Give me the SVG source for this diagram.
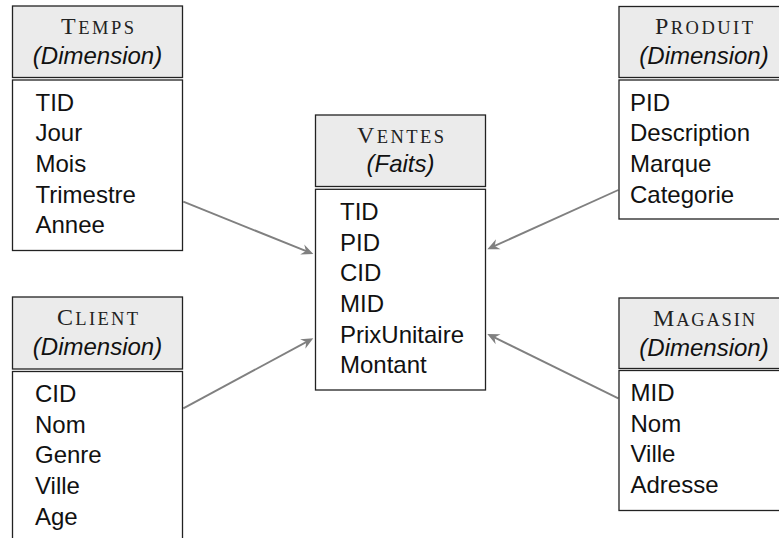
<svg xmlns="http://www.w3.org/2000/svg" width="779" height="538" viewBox="0 0 779 538">
  <style>
    .head { fill: #ebebeb; stroke: #222; stroke-width: 1.3; }
    .body { fill: #fff; stroke: #222; stroke-width: 1.3; }
    .title { font-family: "Liberation Serif", "Times New Roman", serif; fill: #222; text-anchor: middle; }
    .cap { font-size: 24px; }
    .sc { font-size: 18.5px; }
    .kind { font-family: "Liberation Sans", Arial, sans-serif; font-style: italic; font-size: 24px; fill: #111; text-anchor: middle; }
    .attr { font-family: "Liberation Sans", Arial, sans-serif; font-size: 24px; fill: #111; }
    .link { stroke: #808080; stroke-width: 1.9; fill: none; marker-end: url(#tip); }
  </style>
  <defs>
    <marker id="tip" markerUnits="userSpaceOnUse" viewBox="-8 -7 14 14" markerWidth="14" markerHeight="14" refX="0" refY="0" orient="auto">
      <path d="M5,0 L-7,-5.5 L-3,0 L-7,5.5 Z" fill="#808080"/>
    </marker>
  </defs>

  <rect width="779" height="538" fill="#fff"/>

  <!-- star schema connectors: dimensions point at the fact table -->
  <g id="connectors">
    <path class="link" d="M183.3,201.7 L308.7,252.1"/>
    <path class="link" d="M183.3,408.3 L308.9,340.7"/>
    <path class="link" d="M618.3,190 L491.9,247.2"/>
    <path class="link" d="M618.3,398.3 L491.8,336.2"/>
  </g>

  <g id="temps">
    <rect class="head" x="12.5" y="6" width="170" height="71.5"/>
    <rect class="body" x="12.5" y="80" width="170" height="170.5"/>
    <text class="title" x="97.5" y="33.5" textLength="73"><tspan class="cap">T</tspan><tspan class="sc">EMPS</tspan></text>
    <text class="kind" x="97.5" y="64">(Dimension)</text>
    <text class="attr" x="35.5" y="110.5">TID</text>
    <text class="attr" x="35.5" y="141.2">Jour</text>
    <text class="attr" x="35.5" y="171.9">Mois</text>
    <text class="attr" x="35.5" y="202.6">Trimestre</text>
    <text class="attr" x="35.5" y="233.3">Annee</text>
  </g>

  <g id="client">
    <rect class="head" x="12.5" y="297" width="170" height="72"/>
    <rect class="body" x="12.5" y="371.5" width="170" height="200"/>
    <text class="title" x="97.5" y="324.5" textLength="81"><tspan class="cap">C</tspan><tspan class="sc">LIENT</tspan></text>
    <text class="kind" x="97.5" y="355">(Dimension)</text>
    <text class="attr" x="35" y="402">CID</text>
    <text class="attr" x="35" y="432.7">Nom</text>
    <text class="attr" x="35" y="463.4">Genre</text>
    <text class="attr" x="35" y="494.1">Ville</text>
    <text class="attr" x="35" y="524.8">Age</text>
  </g>

  <g id="ventes">
    <rect class="head" x="315.5" y="115" width="170" height="71.5"/>
    <rect class="body" x="315.5" y="189.3" width="170" height="200.7"/>
    <text class="title" x="400.5" y="142.5" textLength="87"><tspan class="cap">V</tspan><tspan class="sc">ENTES</tspan></text>
    <text class="kind" x="400.5" y="172">(Faits)</text>
    <text class="attr" x="340" y="219.8">TID</text>
    <text class="attr" x="340" y="250.5">PID</text>
    <text class="attr" x="340" y="281.2">CID</text>
    <text class="attr" x="340" y="311.9">MID</text>
    <text class="attr" x="340" y="342.6">PrixUnitaire</text>
    <text class="attr" x="340" y="373.3">Montant</text>
  </g>

  <g id="produit">
    <rect class="head" x="619" y="6.5" width="170" height="71"/>
    <rect class="body" x="619" y="80" width="170" height="139"/>
    <text class="title" x="704" y="34" textLength="98"><tspan class="cap">P</tspan><tspan class="sc">RODUIT</tspan></text>
    <text class="kind" x="704" y="64">(Dimension)</text>
    <text class="attr" x="630" y="110.5">PID</text>
    <text class="attr" x="630" y="141.2">Description</text>
    <text class="attr" x="630" y="171.9">Marque</text>
    <text class="attr" x="630" y="202.6">Categorie</text>
  </g>

  <g id="magasin">
    <rect class="head" x="619" y="298" width="170" height="70.5"/>
    <rect class="body" x="619" y="370.5" width="170" height="140"/>
    <text class="title" x="704" y="325.5" textLength="102"><tspan class="cap">M</tspan><tspan class="sc">AGASIN</tspan></text>
    <text class="kind" x="704" y="355.5">(Dimension)</text>
    <text class="attr" x="630.5" y="401">MID</text>
    <text class="attr" x="630.5" y="431.7">Nom</text>
    <text class="attr" x="630.5" y="462.4">Ville</text>
    <text class="attr" x="630.5" y="493.1">Adresse</text>
  </g>
</svg>
